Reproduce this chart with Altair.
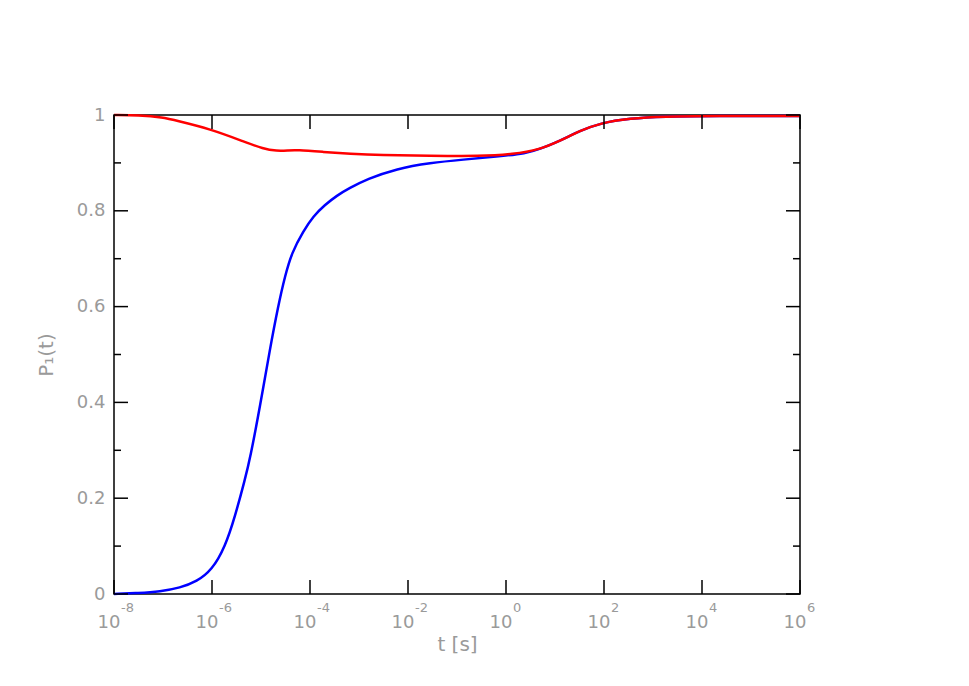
import altair as alt
import pandas as pd

# ---- data ----
blue_logt = [-8.0, -7.5, -7.06, -6.65, -6.31, -6.0, -5.73, -5.53, -5.33, -5.22, -5.02, -4.82,
             -4.65, -4.51, -4.37, -4.14, -3.93, -3.70, -3.45, -3.20, -2.84, -2.23, -1.55,
             -0.87, -0.19, 0.42, 0.69, 1.10, 1.51, 1.92, 2.53, 3.21, 4.23, 6.0]
blue_p = [0.0, 0.002, 0.005, 0.013, 0.026, 0.050, 0.099, 0.162, 0.238, 0.284, 0.392, 0.510,
          0.601, 0.664, 0.713, 0.757, 0.789, 0.812, 0.832, 0.847, 0.866, 0.888, 0.900,
          0.907, 0.913, 0.920, 0.929, 0.946, 0.967, 0.983, 0.993, 0.997, 0.998, 0.998]

red_logt = [-8.0, -7.5, -7.0, -6.72, -6.04, -5.36, -4.95, -4.68, -4.45, -4.27, -3.73, -3.18,
            -2.57, -1.55, -0.53, 0.15, 0.69, 1.10, 1.51, 1.92, 2.53, 3.21, 4.23, 6.0]
red_p = [1.0, 0.9995, 0.995, 0.988, 0.971, 0.945, 0.929, 0.925, 0.926, 0.927, 0.923, 0.919,
         0.916, 0.915, 0.914, 0.918, 0.928, 0.946, 0.967, 0.983, 0.993, 0.997, 0.998, 0.998]

x_major_exp = [-8, -6, -4, -2, 0, 2, 4, 6]
y_major = [0, 0.2, 0.4, 0.6, 0.8, 1.0]
y_minor = [0.1, 0.3, 0.5, 0.7, 0.9]

W, H = 686, 479
GREY = "#9a9a9a"
FONT = "DejaVu Sans"

curves = pd.concat([
    pd.DataFrame({"t": [10.0 ** v for v in blue_logt], "p": blue_p, "s": "blue", "o": 0}),
    pd.DataFrame({"t": [10.0 ** v for v in red_logt], "p": red_p, "s": "red", "o": 1}),
])
xt = pd.DataFrame({"t": [10.0 ** e for e in x_major_exp],
                   "e": [str(e) for e in x_major_exp]})
ymaj = pd.DataFrame({"p": y_major})
ymin = pd.DataFrame({"p": y_minor})

xs = alt.Scale(type="log", domain=[1e-8, 1e6], nice=False)
ys = alt.Scale(domain=[0, 1], nice=False, zero=False)

xenc = alt.X("t:Q", scale=xs,
             axis=alt.Axis(title="t [s]", labels=False, ticks=False, domain=False, grid=False,
                           titleFont=FONT, titleFontSize=20, titleFontWeight="normal",
                           titleColor=GREY, titlePadding=40))
yenc = alt.Y("p:Q", scale=ys,
             axis=alt.Axis(title="P₁(t)", values=y_major, tickSize=0, domain=False, grid=False,
                           labelExpr="datum.value == 0 ? '0' : datum.value == 1 ? '1' : format(datum.value, '.1f')",
                           labelFont=FONT, labelFontSize=18, labelColor=GREY, labelPadding=9,
                           labelFlush=False,
                           titleFont=FONT, titleFontSize=20, titleFontWeight="normal",
                           titleColor=GREY, titlePadding=20))

lines = alt.Chart(curves).mark_line(strokeWidth=2.5, interpolate="basis").encode(
    x=xenc, y=yenc,
    color=alt.Color("s:N", scale=alt.Scale(domain=["blue", "red"], range=["#0000ff", "#ff0000"]),
                    legend=None),
    order="o:Q",
    detail="s:N",
)

tick_style = dict(color="black", strokeWidth=1.5)
xb = alt.Chart(xt).mark_rule(**tick_style).encode(
    x=alt.X("t:Q", scale=xs), y=alt.value(H), y2=alt.value(H - 14))
xtop = alt.Chart(xt).mark_rule(**tick_style).encode(
    x=alt.X("t:Q", scale=xs), y=alt.value(0), y2=alt.value(14))
yl = alt.Chart(ymaj).mark_rule(**tick_style).encode(
    y=alt.Y("p:Q", scale=ys), x=alt.value(0), x2=alt.value(14))
yr = alt.Chart(ymaj).mark_rule(**tick_style).encode(
    y=alt.Y("p:Q", scale=ys), x=alt.value(W), x2=alt.value(W - 14))
yml = alt.Chart(ymin).mark_rule(**tick_style).encode(
    y=alt.Y("p:Q", scale=ys), x=alt.value(0), x2=alt.value(7))
ymr = alt.Chart(ymin).mark_rule(**tick_style).encode(
    y=alt.Y("p:Q", scale=ys), x=alt.value(W), x2=alt.value(W - 7))

base10 = alt.Chart(xt).mark_text(font=FONT, fontSize=18, color=GREY, align="center",
                                 baseline="alphabetic", dx=-5).encode(
    x=alt.X("t:Q", scale=xs), y=alt.value(H + 34), text=alt.value("10"))
expo = alt.Chart(xt).mark_text(font=FONT, fontSize=13, color=GREY, align="left",
                               baseline="alphabetic", dx=7).encode(
    x=alt.X("t:Q", scale=xs), y=alt.value(H + 18), text="e:N")

chart = alt.layer(lines, xb, xtop, yl, yr, yml, ymr, base10, expo).properties(
    width=W, height=H,
    autosize=alt.AutoSizeParams(type="none"),
    padding={"left": 106, "top": 107, "right": 160, "bottom": 80},
    background="white",
).configure_view(stroke="black", strokeWidth=1.5)

chart.save("out.html", embed_options={"renderer": "svg", "actions": False})
